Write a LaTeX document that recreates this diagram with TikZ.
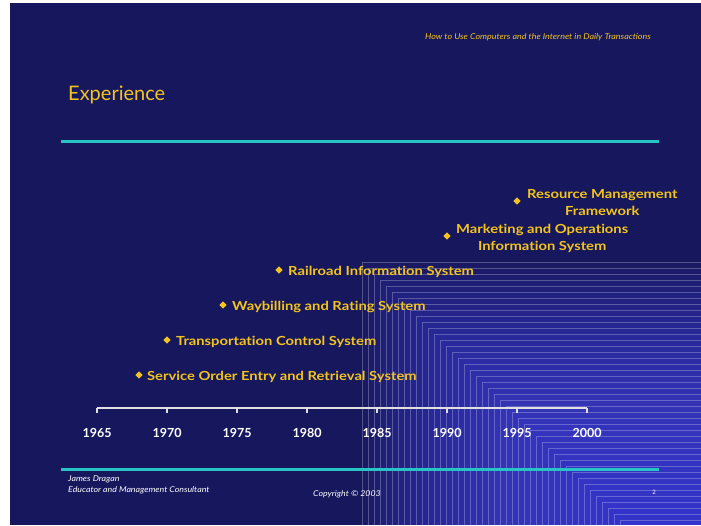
\documentclass[tikz,border=0pt]{standalone}
\usepackage{fontspec}
\setmainfont{Lato}
\newfontfamily\widefont[FakeStretch=1.18,Ligatures=NoCommon]{Lato}
\newfontfamily\notefont[FakeStretch=1.1]{Lato}
\usetikzlibrary{positioning,shapes.geometric}
\definecolor{slidebg}{RGB}{23,23,94}
\definecolor{slidegold}{RGB}{242,196,28}
\definecolor{slidecyan}{RGB}{38,196,196}
\definecolor{slideglow}{RGB}{70,70,225}
\tikzset{
  gem/.style={diamond,fill=slidegold,inner sep=0pt,minimum size=7.5pt},
  item/.style={text=slidegold,font=\widefont\fontsize{12.5}{17}\selectfont\bfseries,inner sep=0pt,align=center,yshift=-2pt},
  yearlbl/.style={text=white,font=\fontsize{12.5}{15}\selectfont\bfseries,inner sep=0pt},
  rulebar/.style={slidecyan,line width=3pt},
  ticker/.style={white!88!black,line width=1.1pt},
  footer/.style={text=white,font=\notefont\fontsize{8}{11}\selectfont\itshape,inner sep=0pt,align=left}
}
\begin{document}
\begin{tikzpicture}[x=1pt,y=-1pt]
\useasboundingbox (0,0) rectangle (701,525);
\fill[white] (0,0) rectangle (701,525);
\fill[slidebg] (10,3) rectangle (701,525);
% stepped glow, lower right
\foreach \i in {0,...,43}{
  \fill[slideglow,opacity=0.05] (362+6*\i,262+6*\i) rectangle (701,525);
  \draw[white,opacity=0.25,line width=0.6pt] (362+6*\i,525) -- (362+6*\i,262+6*\i) -- (701,262+6*\i);
}
% header and title
\node[text=slidegold,font=\notefont\fontsize{8.1}{10}\selectfont\itshape,inner sep=0pt,anchor=east] (head) at (651,37) {How to Use Computers and the Internet in Daily Transactions};
\node[text=slidegold,font=\fontsize{20}{24}\selectfont,inner sep=0pt,anchor=base west] (title) at (68,100) {Experience};
\draw[rulebar] (61,141) -- (659,141);
% time axis
\coordinate (ax0) at (97,408);
\coordinate (ax1) at (587,408);
\draw[ticker] (ax0) -- (ax1);
\foreach \yr [count=\k from 0] in {1965,1970,...,2000}{
  \draw[ticker] (97+70*\k,408) -- ++(0,5);
  \node[yearlbl] (Y\yr) at (97+70*\k,433) {\yr};
}
% entries
\node[gem] (D1) at (139,375) {};
\node[item,right=4pt of D1] (L1) {Service Order Entry and Retrieval System};
\node[gem] (D2) at (167,340) {};
\node[item,right=5pt of D2] (L2) {Transportation Control System};
\node[gem] (D3) at (223,305) {};
\node[item,right=5pt of D3] (L3) {Waybilling and Rating System};
\node[gem] (D4) at (279,270) {};
\node[item,right=5pt of D4] (L4) {Railroad Information System};
\node[gem] (D5) at (447,236) {};
\node[item,right=5pt of D5] (L5) {Marketing and Operations\\Information System};
\node[gem] (D6) at (517,201) {};
\node[item,right=6pt of D6] (L6) {Resource Management\\Framework};
% footer
\draw[rulebar] (61,469) -- (659,469);
\node[footer,anchor=north west] (auth) at (68,476) {James Dragan\\Educator and Management Consultant};
\node[footer] (copy) at (347,494) {Copyright \textcopyright{} 2003};
\node[footer,font=\fontsize{6}{8}\selectfont] (page) at (654,492) {2};
\end{tikzpicture}
\end{document}
